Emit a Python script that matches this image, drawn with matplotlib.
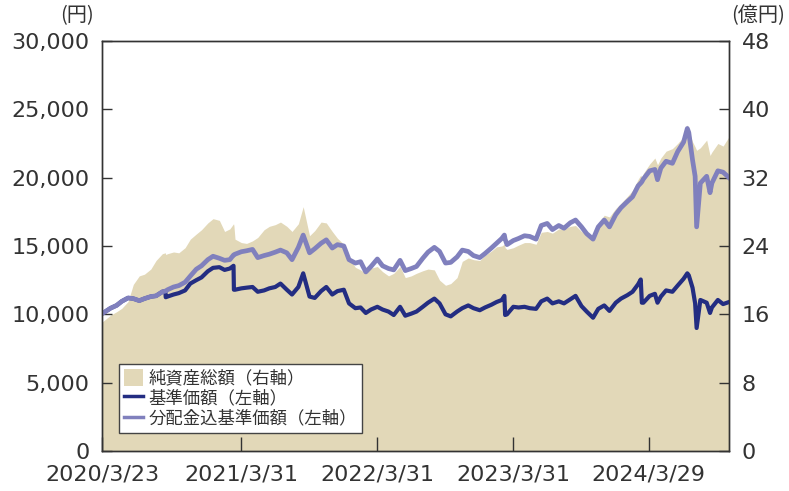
import matplotlib
matplotlib.use("Agg")
import matplotlib.pyplot as plt
import matplotlib.dates as mdates
from matplotlib.patches import Patch
from matplotlib.lines import Line2D
from matplotlib.ticker import FuncFormatter, FixedLocator
import pandas as pd

plt.rcParams['font.family'] = ['DejaVu Sans', 'Noto Sans CJK JP']

dates = [
    "2020-03-23", "2020-04-01", "2020-04-15", "2020-05-01", "2020-05-15", "2020-06-01", "2020-06-15",
    "2020-07-01", "2020-07-15", "2020-08-01", "2020-08-15", "2020-09-01", "2020-09-09", "2020-09-10",
    "2020-09-15", "2020-10-01", "2020-10-15", "2020-11-01", "2020-11-15", "2020-12-01", "2020-12-15",
    "2021-01-01", "2021-01-15", "2021-02-01", "2021-02-15", "2021-03-01", "2021-03-11", "2021-03-12",
    "2021-03-15", "2021-04-01", "2021-04-15", "2021-05-01", "2021-05-15", "2021-06-01", "2021-06-15",
    "2021-07-01", "2021-07-15", "2021-08-01", "2021-08-15", "2021-09-01", "2021-09-14", "2021-10-01",
    "2021-10-15", "2021-11-01", "2021-11-15", "2021-12-01", "2021-12-15",
    "2022-01-01", "2022-01-15", "2022-02-01", "2022-02-15", "2022-03-01", "2022-03-15", "2022-04-01",
    "2022-04-15", "2022-05-01", "2022-05-15", "2022-06-01", "2022-06-15", "2022-07-01", "2022-07-15",
    "2022-08-01", "2022-08-15", "2022-09-01", "2022-09-15", "2022-10-01", "2022-10-15", "2022-11-01",
    "2022-11-15", "2022-12-01", "2022-12-15",
    "2023-01-01", "2023-01-15", "2023-02-01", "2023-02-15", "2023-03-01", "2023-03-08", "2023-03-10",
    "2023-03-15", "2023-04-01", "2023-04-15", "2023-05-01", "2023-05-15", "2023-06-01", "2023-06-15",
    "2023-07-01", "2023-07-15", "2023-08-01", "2023-08-15", "2023-09-01", "2023-09-15", "2023-10-01",
    "2023-10-15", "2023-11-01", "2023-11-15", "2023-12-01", "2023-12-15",
    "2024-01-01", "2024-01-15", "2024-02-01", "2024-02-15", "2024-03-01", "2024-03-08", "2024-03-11",
    "2024-03-15", "2024-04-01", "2024-04-15", "2024-04-22", "2024-05-01", "2024-05-15", "2024-06-01",
    "2024-06-15", "2024-07-01", "2024-07-11", "2024-07-15", "2024-07-25", "2024-08-01", "2024-08-05",
    "2024-08-15", "2024-09-01", "2024-09-10", "2024-09-15", "2024-10-01", "2024-10-15", "2024-10-31",
]

# 分配金込基準価額（円）
nav_reinvested = [
    10050, 10200, 10450, 10650, 10950, 11200, 11150,
    11000, 11150, 11300, 11350, 11650, 11700, 11700,
    11800, 12000, 12100, 12350, 12800, 13300, 13550,
    14000, 14250, 14100, 13950, 14000, 14340, 14340,
    14400, 14580, 14650, 14750, 14150, 14300, 14400,
    14550, 14700, 14500, 14000, 14900, 15800, 14500,
    14800, 15200, 15450, 14850, 15100,
    15000, 14000, 13750, 13850, 13100, 13500, 14050,
    13550, 13350, 13250, 13950, 13200, 13350, 13500,
    14100, 14550, 14900, 14600, 13750, 13800, 14200,
    14700, 14600, 14300,
    14150, 14450, 14850, 15200, 15550, 15800, 15500,
    15100, 15400, 15550, 15750, 15700, 15500, 16500,
    16650, 16200, 16500, 16300, 16700, 16900, 16400,
    15900, 15500, 16400, 16900, 16400,
    17300, 17800, 18250, 18600, 19400, 19600, 19700,
    19900, 20500, 20600, 19850, 20700, 21200, 21050,
    21900, 22600, 23600, 23300, 21300, 20100, 16400,
    19600, 20100, 18900, 19600, 20500, 20400, 20000,
]

# 基準価額（円）
nav = [
    10050, 10200, 10450, 10650, 10950, 11200, 11150,
    11000, 11150, 11300, 11350, 11650, 11700, 11250,
    11300, 11450, 11550, 11750, 12250, 12500, 12700,
    13150, 13400, 13450, 13250, 13350, 13550, 11800,
    11800, 11900, 11950, 12000, 11650, 11750, 11900,
    12000, 12250, 11800, 11450, 12000, 13000, 11300,
    11200, 11700, 12000, 11450, 11700,
    11800, 10800, 10450, 10500, 10100, 10350, 10550,
    10350, 10200, 9950, 10550, 9900, 10050, 10200,
    10550, 10850, 11150, 10800, 10000, 9850, 10200,
    10450, 10650, 10450,
    10300, 10500, 10700, 10900, 11050, 11350, 9950,
    10000, 10550, 10500, 10550, 10450, 10400, 10950,
    11150, 10800, 10950, 10800, 11100, 11350, 10600,
    10200, 9750, 10400, 10650, 10250,
    10850, 11150, 11400, 11650, 12200, 12550, 10850,
    10850, 11350, 11500, 10850, 11300, 11750, 11650,
    12100, 12600, 13000, 12850, 11950, 10800, 9000,
    11050, 10850, 10100, 10500, 11050, 10750, 10900,
]

# 純資産総額（億円）
net_assets = [
    15.1, 15.4, 15.9, 16.3, 16.7, 17.5, 19.5,
    20.5, 20.7, 21.3, 22.3, 23.1, 23.2, 23.0,
    23.1, 23.3, 23.2, 23.8, 24.8, 25.4, 25.9,
    26.7, 27.2, 27.0, 25.7, 26.0, 26.6, 26.4,
    24.8, 24.4, 24.3, 24.6, 25.0, 25.9, 26.3,
    26.5, 26.8, 26.3, 25.7, 26.6, 28.6, 25.2,
    25.8, 26.8, 26.7, 25.7, 24.9,
    24.2, 22.6, 21.5, 21.2, 20.8, 21.4, 21.6,
    21.0, 20.5, 20.8, 21.6, 20.3, 20.5, 20.8,
    21.1, 21.3, 21.2, 20.0, 19.4, 19.6, 20.3,
    22.2, 22.6, 22.4,
    22.3, 22.9, 23.4, 23.9, 24.0, 24.2, 23.8,
    23.6, 23.8, 24.1, 24.4, 24.4, 24.2, 25.6,
    25.7, 25.5, 26.0, 26.0, 26.3, 26.4, 25.7,
    25.4, 25.1, 26.6, 27.6, 27.4,
    28.4, 29.0, 29.8, 30.5, 31.8, 32.3, 32.0,
    32.5, 33.6, 34.3, 33.5, 34.3, 35.1, 35.4,
    36.0, 36.8, 38.2, 37.5, 36.2, 35.6, 35.2,
    35.5, 36.4, 34.6, 35.0, 36.0, 35.7, 36.8,
]

tick_dates = ["2020-03-23", "2021-03-31", "2022-03-31", "2023-03-31", "2024-03-29"]
tick_labels = ["2020/3/23", "2021/3/31", "2022/3/31", "2023/3/31", "2024/3/29"]
left_ticks = [0, 5000, 10000, 15000, 20000, 25000, 30000]
right_ticks = [0, 8, 16, 24, 32, 40, 48]
legend_labels = ["純資産総額（右軸）", "基準価額（左軸）", "分配金込基準価額（左軸）"]

c_area = "#E2D8B8"
c_nav = "#232D82"
c_reinv = "#8080BD"
c_text = "#333333"

x = pd.to_datetime(dates)

fig = plt.figure(figsize=(7.89, 4.91), dpi=100)
ax = fig.add_axes([0.1293, 0.0815, 0.7947, 0.835])
ax2 = ax.twinx()

ax2.fill_between(x, 0, net_assets, color=c_area, lw=0)
ax.plot(x, nav, color=c_nav, lw=3.0, solid_joinstyle='round')
ax.plot(x, nav_reinvested, color=c_reinv, lw=3.4, solid_joinstyle='round')

ax.set_zorder(2)
ax2.set_zorder(1)
ax.patch.set_visible(False)

ax.set_xlim(pd.Timestamp("2020-03-23"), pd.Timestamp("2024-10-31"))
ax.set_ylim(0, 30000)
ax2.set_ylim(0, 48)

ax.xaxis.set_major_locator(FixedLocator(mdates.date2num(pd.to_datetime(tick_dates))))
ax.set_xticklabels(tick_labels)
ax.set_yticks(left_ticks)
ax.yaxis.set_major_formatter(FuncFormatter(lambda v, p: f"{int(v):,}"))
ax2.set_yticks(right_ticks)

fs = 16
ax.tick_params(axis='x', direction='in', length=10, width=1, color=c_text, labelsize=fs, labelcolor=c_text, pad=10)
ax.tick_params(axis='y', direction='in', length=7, width=1, color=c_text, labelsize=fs, labelcolor=c_text, pad=9)
ax2.tick_params(axis='y', direction='in', length=7, width=1, color=c_text, labelsize=fs, labelcolor=c_text, pad=9)

for a in (ax, ax2):
    for s in a.spines.values():
        s.set_color(c_text)
        s.set_linewidth(1.0)

fig.text(0.097, 0.968, "(円)", ha='center', va='center', fontsize=14.5, color=c_text,
         family=['Noto Sans CJK JP'])
fig.text(0.927, 0.968, "(億円)", ha='left', va='center', fontsize=14.5, color=c_text,
         family=['Noto Sans CJK JP'])

handles = [
    Patch(facecolor=c_area, edgecolor='none'),
    Line2D([], [], color=c_nav, lw=2.5),
    Line2D([], [], color=c_reinv, lw=2.5),
]
leg = ax.legend(handles, legend_labels, loc='lower left', bbox_to_anchor=(0.027, 0.044),
                prop={'family': ['Noto Sans CJK JP'], 'size': 12.5}, frameon=True, fancybox=False,
                edgecolor='#444444', framealpha=1, borderpad=0.3, labelspacing=0.12,
                handlelength=1.1, handleheight=1.1, handletextpad=0.3, borderaxespad=0)
leg.get_frame().set_linewidth(1.0)
for t in leg.get_texts():
    t.set_color(c_text)

fig.savefig("out.png", dpi=100)
